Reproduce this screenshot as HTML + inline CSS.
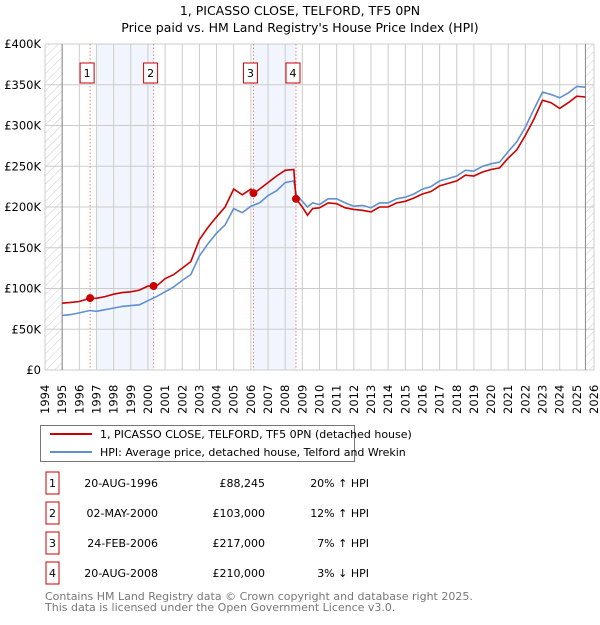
<!DOCTYPE html>
<html><head><meta charset="utf-8"><style>
body{margin:0;background:#fff;font-family:"Liberation Sans","DejaVu Sans",sans-serif;}
svg text{font-family:"DejaVu Sans","Liberation Sans",sans-serif;}
</style></head><body>
<svg id="chart" width="600" height="620" viewBox="0 0 600 620" xmlns="http://www.w3.org/2000/svg">
<defs>
<pattern id="hatch" width="6" height="6" patternUnits="userSpaceOnUse" patternTransform="rotate(45)">
<line x1="0" y1="0" x2="0" y2="6" stroke="#ccc" stroke-width="1"/></pattern>
</defs>
<text x="300" y="15" text-anchor="middle" font-size="12.5">1, PICASSO CLOSE, TELFORD, TF5 0PN</text>
<text x="300" y="32" text-anchor="middle" font-size="12.5">Price paid vs. HM Land Registry's House Price Index (HPI)</text>
<g id="plot"></g>
<g>
<rect x="40.5" y="425.5" width="314" height="36" fill="#fff" stroke="#777"/>
<line x1="50" y1="434" x2="92" y2="434" stroke="#cc0000" stroke-width="2"/>
<text x="100" y="438" font-size="11">1, PICASSO CLOSE, TELFORD, TF5 0PN (detached house)</text>
<line x1="50" y1="452" x2="92" y2="452" stroke="#6090d0" stroke-width="2"/>
<text x="100" y="456" font-size="11">HPI: Average price, detached house, Telford and Wrekin</text>
</g>
<g id="table" font-size="11"></g>
<text x="45" y="600" font-size="11" fill="#777">Contains HM Land Registry data © Crown copyright and database right 2025.</text>
<text x="45" y="611" font-size="11" fill="#777">This data is licensed under the Open Government Licence v3.0.</text>
</svg>
<script>
const hpiYears=[1995,1995.5,1996,1996.6,1997,1997.5,1998,1998.5,1999,1999.5,2000,2000.5,2001,2001.5,2002,2002.5,2003,2003.5,2004,2004.5,2005,2005.5,2006,2006.5,2007,2007.5,2008,2008.5,2008.65,2009,2009.3,2009.6,2010,2010.5,2011,2011.5,2012,2012.5,2013,2013.5,2014,2014.5,2015,2015.5,2016,2016.5,2017,2017.5,2018,2018.5,2019,2019.5,2020,2020.5,2021,2021.5,2022,2022.5,2023,2023.5,2024,2024.5,2025,2025.5];
const hpiValues=[67,68,70,73,72,74,76,78,79,80,85,90,96,102,110,117,140,155,168,178,198,193,201,205,214,220,230,232,215,207,200,205,203,210,210,205,201,202,199,205,205,210,212,216,222,225,232,235,238,245,244,250,253,255,268,280,298,320,341,338,334,340,348,347];
const ppYears=[1995,1995.5,1996,1996.6,1997,1997.5,1998,1998.5,1999,1999.5,2000,2000.5,2001,2001.5,2002,2002.5,2003,2003.5,2004,2004.5,2005,2005.5,2006,2006.2,2006.5,2007,2007.5,2008,2008.5,2008.63,2009,2009.3,2009.6,2010,2010.5,2011,2011.5,2012,2012.5,2013,2013.5,2014,2014.5,2015,2015.5,2016,2016.5,2017,2017.5,2018,2018.5,2019,2019.5,2020,2020.5,2021,2021.5,2022,2022.5,2023,2023.5,2024,2024.5,2025,2025.5];
const ppValues=[82,83,84,88,88,90,93,95,96,98,103,103,112,117,125,133,160,175,188,200,222,215,222,217,222,230,238,245,246,210,200,190,198,199,205,204,199,197,196,194,200,200,205,207,211,216,219,226,229,232,239,238,243,246,248,260,270,288,308,331,328,321,328,336,335];
const saleYears=[1996.63,2000.33,2006.15,2008.63];
const saleValues=[88.245,103,217,210];
const saleLabels=["1","2","3","4"];
const saleDates=["20-AUG-1996","02-MAY-2000","24-FEB-2006","20-AUG-2008"];
const salePrices=["£88,245","£103,000","£217,000","£210,000"];
const saleDiffs=["20% ↑ HPI","12% ↑ HPI","7% ↑ HPI","3% ↓ HPI"];
const yTicks=[0,50,100,150,200,250,300,350,400];
const yTickLabels=["£0","£50K","£100K","£150K","£200K","£250K","£300K","£350K","£400K"];
const xYears=[];for(let y=1994;y<=2026;y++)xYears.push(y);

const NS="http://www.w3.org/2000/svg";
const L=45,R=594,T=44,B=370;
const X=v=>L+(v-1994)*(R-L)/32;
const Y=v=>B-v*(B-T)/400;
const plot=document.getElementById('plot');
function mk(tag,attrs,parent){const e=document.createElementNS(NS,tag);for(const k in attrs)e.setAttribute(k,attrs[k]);(parent||plot).appendChild(e);return e;}
let e;
e=mk('rect',{x:L,y:T,width:R-L,height:B-T,fill:'#fff'});


e=mk('rect',{x:X(1996.98),y:T,width:X(2000.33)-X(1996.98),height:B-T,fill:'#f1f5fd'});


e=mk('rect',{x:X(2006.15),y:T,width:X(2008.63)-X(2006.15),height:B-T,fill:'#f1f5fd'});


e=mk('rect',{x:L,y:T,width:X(1995)-L,height:B-T,fill:'url(#hatch)'});


e=mk('rect',{x:X(2025.5),y:T,width:R-X(2025.5),height:B-T,fill:'url(#hatch)'});


xYears.forEach(y=>{
 e=mk('line',{x1:X(y),x2:X(y),y1:T,y2:B,stroke:'#ccc','stroke-width':1});
 
 
 const tx=X(y)+4,ty=B+44;
 e=mk('text',{x:tx,y:ty,'font-size':11.5,transform:`rotate(-90 ${tx} ${ty})`});
 e.textContent=y;
 
 
});
yTicks.forEach((v,i)=>{
 e=mk('line',{x1:L,x2:R,y1:Y(v),y2:Y(v),stroke:'#ccc','stroke-width':1});
 
 
 e=mk('text',{x:L-4,y:Y(v)+4,'font-size':11.5,'text-anchor':'end'});
 e.textContent=yTickLabels[i];
 
 
});
e=mk('line',{x1:X(1995),x2:X(1995),y1:T,y2:B,stroke:'#888'});


e=mk('line',{x1:X(2025.5),x2:X(2025.5),y1:T,y2:B,stroke:'#888'});


saleYears.forEach((y,i)=>{
 e=mk('line',{x1:X(y),x2:X(y),y1:T,y2:B,stroke:'#f08080','stroke-dasharray':'1.5,2','stroke-width':1});
 
 
 e=mk('rect',{x:X(y)-10,y:63,width:14,height:20,fill:'#fff',stroke:'#cc0000'});
 
 
 e=mk('text',{x:X(y)-3,y:77,'font-size':11,'text-anchor':'middle'});
 e.textContent=saleLabels[i];
 
 
});
function path(xs,vs){return xs.map((x,i)=>(i?'L':'M')+X(x).toFixed(1)+','+Y(vs[i]).toFixed(1)).join('');}
e=mk('path',{d:path(hpiYears,hpiValues),fill:'none',stroke:'#6090d0','stroke-width':1.6});


e=mk('path',{d:path(ppYears,ppValues),fill:'none',stroke:'#cc0000','stroke-width':1.6});


saleYears.forEach((y,i)=>{
 e=mk('circle',{cx:X(y),cy:Y(saleValues[i]),r:4,fill:'#cc0000'});
 
 
});
const tbl=document.getElementById('table');
saleYears.forEach((y,i)=>{
 const cy=483+i*30;
 e=mk('rect',{x:46,y:cy-11,width:13,height:22,fill:'#fff',stroke:'#cc0000'},tbl);
 
 
 e=mk('text',{x:52.5,y:cy+4,'text-anchor':'middle'},tbl);e.textContent=saleLabels[i];
 
 
 e=mk('text',{x:158,y:cy+4,'text-anchor':'end'},tbl);e.textContent=saleDates[i];
 
 
 e=mk('text',{x:265,y:cy+4,'text-anchor':'end'},tbl);e.textContent=salePrices[i];
 
 
 e=mk('text',{x:369,y:cy+4,'text-anchor':'end'},tbl);e.textContent=saleDiffs[i];
 
 
});
</script>
</body></html>
